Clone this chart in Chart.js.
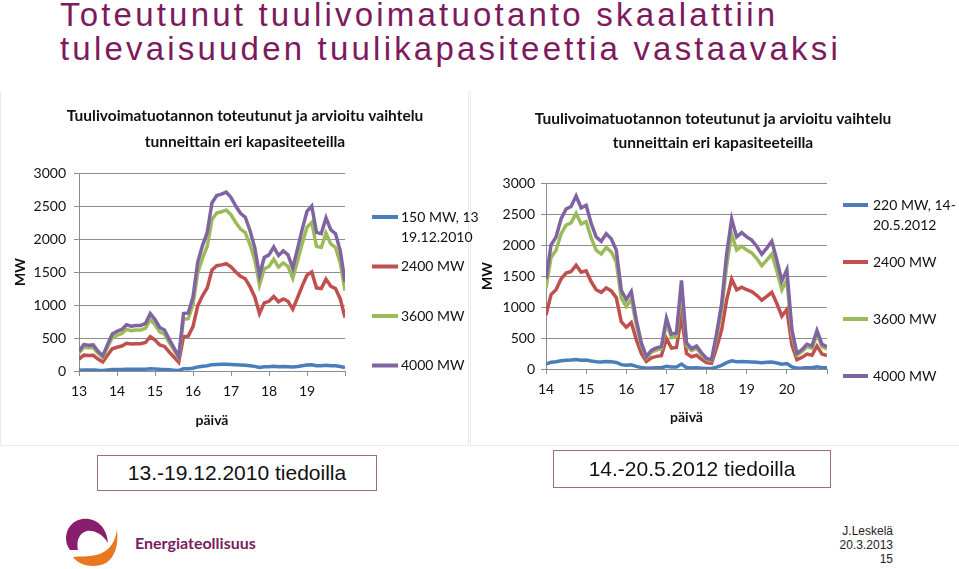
<!DOCTYPE html>
<html>
<head>
<meta charset="utf-8">
<script src="https://cdn.jsdelivr.net/npm/chart.js@4.4.0/dist/chart.umd.min.js"></script>
<style>
  html, body { margin: 0; padding: 0; background: #fff; }
  body { width: 959px; height: 569px; position: relative; overflow: hidden; font-family: "Liberation Sans", Arial, sans-serif; }
  .title { position: absolute; left: 60px; top: -2px; color: #7d1a5d; font-size: 33px; line-height: 34px; letter-spacing: 3.2px; white-space: nowrap; }
  .frame { position: absolute; top: 91px; height: 354px; border: 1px solid #ececec; border-top: none; }
  canvas { position: absolute; top: 92px; }
  .box { position: absolute; border: 1px solid #9b6b90; text-align: center; font-size: 21px; color: #111; }
  .brand { position: absolute; left: 135px; top: 533px; font-family: Lato, sans-serif; font-weight: bold; font-size: 16px; color: #7a1c60; }
  .info { position: absolute; right: 66px; top: 524px; font-size: 12px; line-height: 14px; text-align: right; color: #222; }
</style>
</head>
<body>
<div class="title">Toteutunut tuulivoimatuotanto skaalattiin<br>tulevaisuuden tuulikapasiteettia vastaavaksi</div>

<div class="frame" style="left:0; width:467px;"></div>
<div class="frame" style="left:470px; width:488px;"></div>

<canvas id="chart2010" width="490" height="355" style="left:0;"></canvas>
<canvas id="chart2012" width="486" height="355" style="left:470px;"></canvas>

<div class="box" style="left:97px; top:455px; width:278px; height:34px; line-height:34px;">13.-19.12.2010 tiedoilla</div>
<div class="box" style="left:553px; top:450px; width:276px; height:36px; line-height:36px;">14.-20.5.2012 tiedoilla</div>

<svg style="position:absolute; left:0; top:505px;" width="140" height="64">
  <path d="M70,45 C62,35 66,17 82,14 C96,12 107,22 108,38 C103,30 95,25 87,26 C79,28 76,36 78,45 Z" fill="#8a1e6e"/>
  <path d="M73,52 C80,62 96,63 106,58 C114,53 119,41 117,25 C115,40 106,48 96,50 C88,52 80,51 73,52 Z" fill="#e87722"/>
</svg>
<div class="brand">Energiateollisuus</div>
<div class="info">J.Leskelä<br>20.3.2013<br>15</div>

<script>
// 3-hour steps, 8 per day
const stepsPerDay = 8;

// 13.-19.12.2010
const start2010 = 13;
const days2010 = ["13", "14", "15", "16", "17", "18", "19"];
const mw150 = [11, 15, 15, 15, 11, 9, 15, 21, 23, 24, 26, 26, 26, 26, 27, 33,
  29, 25, 23, 18, 13, 8, 33, 33, 42, 62, 71, 79, 96, 100, 101, 102,
  99, 94, 90, 87, 80, 70, 54, 65, 66, 71, 66, 68, 66, 59, 69, 81,
  91, 94, 79, 78, 87, 80, 78, 68, 51];
const mw2400a = [180, 240, 234, 237, 180, 138, 240, 336, 360, 378, 420, 408, 414, 414, 432, 522,
  468, 396, 372, 288, 210, 132, 522, 528, 672, 990, 1140, 1260, 1530, 1596, 1608, 1626,
  1578, 1500, 1434, 1398, 1278, 1122, 870, 1032, 1056, 1128, 1050, 1092, 1056, 936, 1110, 1290,
  1452, 1500, 1260, 1248, 1392, 1284, 1248, 1092, 810];
const mw3600a = [270, 360, 351, 356, 270, 207, 360, 504, 540, 567, 630, 612, 621, 621, 648, 783,
  702, 594, 558, 432, 315, 198, 783, 792, 1008, 1485, 1710, 1890, 2295, 2394, 2412, 2439,
  2367, 2250, 2151, 2097, 1917, 1683, 1305, 1548, 1584, 1692, 1575, 1638, 1584, 1404, 1665, 1935,
  2178, 2250, 1890, 1872, 2088, 1926, 1872, 1638, 1215];
const mw4000a = [300, 400, 390, 395, 300, 230, 400, 560, 600, 630, 700, 680, 690, 690, 720, 870,
  780, 660, 620, 480, 350, 220, 870, 880, 1120, 1650, 1900, 2100, 2550, 2660, 2680, 2710,
  2630, 2500, 2390, 2330, 2130, 1870, 1450, 1720, 1760, 1880, 1750, 1820, 1760, 1560, 1850, 2150,
  2420, 2500, 2100, 2080, 2320, 2140, 2080, 1820, 1350];

// 14.-20.5.2012
const start2012 = 14;
const days2012 = ["14", "15", "16", "17", "18", "19", "20"];
const mw220 = [80, 110, 117, 133, 142, 144, 153, 143, 145, 129, 117, 113, 120, 116, 106, 70,
  62, 69, 43, 23, 11, 17, 19, 20, 45, 31, 32, 79, 23, 18, 20, 14,
  9, 8, 31, 58, 102, 133, 117, 121, 117, 114, 109, 102, 107, 113, 97, 78,
  88, 35, 14, 17, 22, 20, 34, 22, 20];
const mw2400b = [870, 1200, 1278, 1452, 1548, 1572, 1674, 1560, 1584, 1410, 1278, 1236, 1308, 1260, 1152, 762,
  672, 750, 474, 252, 120, 180, 204, 216, 492, 336, 348, 858, 252, 198, 222, 156,
  102, 90, 342, 630, 1110, 1452, 1278, 1320, 1278, 1248, 1188, 1110, 1170, 1236, 1056, 852,
  960, 384, 150, 186, 240, 222, 372, 240, 216];
const mw3600b = [1305, 1800, 1917, 2178, 2322, 2358, 2511, 2340, 2376, 2115, 1917, 1854, 1962, 1890, 1728, 1143,
  1008, 1125, 711, 378, 180, 270, 306, 324, 738, 504, 522, 1287, 378, 297, 333, 234,
  153, 135, 513, 945, 1665, 2178, 1917, 1980, 1917, 1872, 1782, 1665, 1755, 1854, 1584, 1278,
  1440, 576, 225, 279, 360, 333, 558, 360, 324];
const mw4000b = [1450, 2000, 2130, 2420, 2580, 2620, 2790, 2600, 2640, 2350, 2130, 2060, 2180, 2100, 1920, 1270,
  1120, 1250, 790, 420, 200, 300, 340, 360, 820, 560, 580, 1430, 420, 330, 370, 260,
  170, 150, 570, 1050, 1850, 2420, 2130, 2200, 2130, 2080, 1980, 1850, 1950, 2060, 1760, 1420,
  1600, 640, 250, 310, 400, 370, 620, 400, 360];

const chartTitle = ["Tuulivoimatuotannon toteutunut ja arvioitu vaihtelu", "tunneittain eri kapasiteeteilla"];
const font = "Lato, 'Open Sans', sans-serif";
const gridColor = "#8c8c8c";

Chart.defaults.font.family = font;
Chart.defaults.color = "#111";

// legend drawn beside the plot, one entry per dataset
const sideLegend = {
  id: "sideLegend",
  afterDraw(chart, args, opts) {
    const { ctx, chartArea } = chart;
    ctx.save();
    ctx.font = "14px " + font;
    ctx.textBaseline = "middle";
    chart.data.datasets.forEach((ds, i) => {
      const y = chartArea.top + opts.top + i * opts.gap;
      ctx.strokeStyle = ds.borderColor;
      ctx.lineWidth = 4;
      ctx.beginPath();
      ctx.moveTo(chartArea.right + opts.lineFrom, y);
      ctx.lineTo(chartArea.right + opts.lineTo, y);
      ctx.stroke();
      ctx.fillStyle = "#111";
      ds.label.split("\n").forEach((line, j) => {
        ctx.fillText(line, chartArea.right + opts.textAt, y + j * 20);
      });
    });
    ctx.restore();
  },
};

const toPoints = (start, values) =>
  values.map((v, i) => ({ x: start + i / stepsPerDay, y: v }));

function makeChart(id, start, dayLabels, series, labels, s) {
  const colors = ["#4a7ebb", "#c0504d", "#9bbb59", "#8064a2"];
  const datasets = series.map((values, i) => ({
    label: labels[i],
    data: toPoints(start, values),
    borderColor: colors[i],
    borderWidth: 3.5,
    pointRadius: 0,
    tension: 0,
    order: 3 - i,
  }));

  new Chart(document.getElementById(id), {
    type: "line",
    data: { datasets },
    plugins: [sideLegend],
    options: {
      responsive: false,
      animation: false,
      events: [],
      layout: { padding: { bottom: s.bottomPad } },
      plugins: {
        legend: { display: false },
        tooltip: { enabled: false },
        title: {
          display: true,
          text: chartTitle,
          color: "#111",
          font: { size: 15.5, weight: "bold", lineHeight: s.titleLine / 15.5 },
          padding: { top: s.titleTop, bottom: s.titleBottom },
        },
        sideLegend: s.legend,
      },
      scales: {
        x: {
          type: "linear",
          min: start,
          max: start + 7,
          ticks: {
            stepSize: 1,
            padding: 7,
            font: { size: 14 },
            callback: (v) => dayLabels[v - start] ?? "",
          },
          grid: { drawOnChartArea: false, tickLength: 5, color: gridColor },
          border: { color: gridColor },
          title: { display: true, text: "päivä", font: { size: 14, weight: "bold", lineHeight: 1.2 }, padding: { top: 4, bottom: 0 } },
          afterFit: (scale) => { scale.height = s.xHeight; },
        },
        y: {
          min: 0,
          max: 3000,
          ticks: { stepSize: 500, padding: s.yPad, font: { size: 14 }, callback: (v) => String(v) },
          grid: { color: gridColor, tickLength: 5 },
          border: { color: gridColor },
          title: { display: true, text: "MW", font: { size: 14, weight: "bold" }, padding: s.yTitlePad },
          afterFit: (scale) => { scale.width = s.yWidth; },
        },
        side: {
          position: "right",
          ticks: { display: false },
          grid: { display: false },
          border: { display: false },
          afterFit: (scale) => { scale.width = s.rightWidth; },
        },
      },
    },
  });
}

makeChart("chart2010", start2010, days2010,
  [mw150, mw2400a, mw3600a, mw4000a],
  ["150 MW, 13\n19.12.2010", "2400 MW", "3600 MW", "4000 MW"],
  {
    titleTop: 11, titleLine: 26, titleBottom: 18,
    xHeight: 58, bottomPad: 18, yWidth: 79, yPad: 8, yTitlePad: 12, rightWidth: 145,
    legend: { top: 44, gap: 49.5, lineFrom: 27, lineTo: 53, textAt: 56 },
  });

makeChart("chart2012", start2012, days2012,
  [mw220, mw2400b, mw3600b, mw4000b],
  ["220 MW, 14-\n20.5.2012", "2400 MW", "3600 MW", "4000 MW"],
  {
    titleTop: 15, titleLine: 24, titleBottom: 28,
    xHeight: 57, bottomPad: 21, yWidth: 76, yPad: 6, yTitlePad: 9, rightWidth: 129,
    legend: { top: 22, gap: 57, lineFrom: 16, lineTo: 41, textAt: 46 },
  });
</script>
</body>
</html>
